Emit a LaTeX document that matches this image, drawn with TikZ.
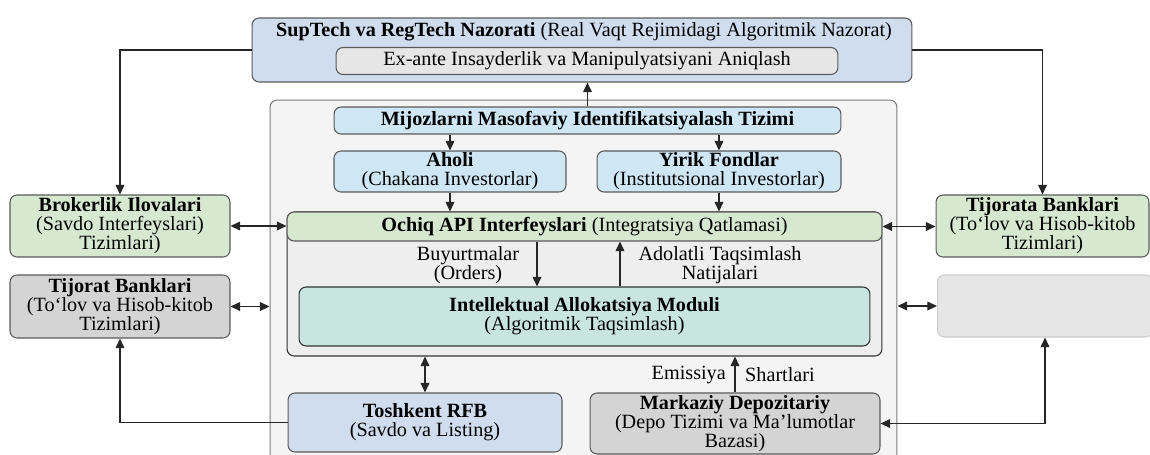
\documentclass[tikz,border=0pt]{standalone}
\usepackage{fontspec}
\setmainfont{Liberation Serif}
\usetikzlibrary{positioning,arrows.meta}
\definecolor{supblue}{HTML}{D0DDEF}
\definecolor{skyblue}{HTML}{CFE6F5}
\definecolor{apigreen}{HTML}{D6E9D0}
\definecolor{tealbox}{HTML}{C8E5E0}
\definecolor{greybox}{HTML}{D4D4D4}
\definecolor{lightgrey}{HTML}{E6E6E6}
\definecolor{panel}{HTML}{F4F4F4}
\definecolor{inner}{HTML}{EEEEEE}
\definecolor{edge}{HTML}{5A5A5A}
\begin{document}
\begin{tikzpicture}[x=0.02cm,y=-0.02cm,font=\fontsize{11.5}{10.8}\selectfont,
  box/.style={draw=edge,rounded corners=4pt,align=center,inner sep=1pt,line width=0.6pt},
  arr/.style={-{Triangle[length=5.5pt,width=5pt]},line width=0.7pt,black!85},
  both/.style={{Triangle[length=5.5pt,width=5pt]}-{Triangle[length=5.5pt,width=5pt]},line width=0.7pt,black!85}]
\useasboundingbox (0,0) rectangle (1150,454);

\node[box,fill=supblue,minimum width=13.2cm,minimum height=1.28cm] (sup) at (582,50) {};
\node (suptitle) at (584,32) {\textbf{SupTech va RegTech Nazorati} (Real Vaqt Rejimidagi Algoritmik Nazorat)};
\node[box,fill=lightgrey,minimum width=10.04cm,minimum height=0.54cm] (exante) at (587,61) {Ex-ante Insayderlik va Manipulyatsiyani Aniqlash};

\node[box,draw=edge!80,fill=panel,minimum width=12.54cm,minimum height=7.4cm] (platform) at (583.5,285) {};
\node[box,fill=skyblue,minimum width=10.14cm,minimum height=0.54cm] (mijoz) at (587.5,120.5) {\textbf{Mijozlarni Masofaviy Identifikatsiyalash Tizimi}};
\node[box,fill=skyblue,minimum width=4.64cm,minimum height=0.82cm] (aholi) at (450,171.5) {\textbf{Aholi}\\(Chakana Investorlar)};
\node[box,fill=skyblue,minimum width=4.88cm,minimum height=0.82cm] (yirik) at (719,171.5) {\textbf{Yirik Fondlar}\\(Institutsional Investorlar)};

\node[box,draw=black!80,fill=inner,minimum width=11.9cm,minimum height=2.88cm] (algo) at (584.5,284) {};
\node[box,fill=apigreen,minimum width=11.9cm,minimum height=0.58cm] (api) at (584.5,226.5) {\textbf{Ochiq API Interfeyslari} (Integratsiya Qatlamasi)};
\node[box,draw=black!80,fill=tealbox,minimum width=11.42cm,minimum height=1.18cm] (alloc) at (584.5,316.5) {\textbf{Intellektual Allokatsiya Moduli}\\(Algoritmik Taqsimlash)};
\node[align=center] (orders) at (468,265) {Buyurtmalar\\(Orders)};
\node[align=center] (results) at (720,265) {Adolatli Taqsimlash\\Natijalari};

\node[box,fill=supblue,minimum width=5.48cm,minimum height=1.18cm] (tosh) at (425,422.5) {\textbf{Toshkent RFB}\\(Savdo va Listing)};
\node[box,fill=greybox,minimum width=5.8cm,minimum height=1.22cm] (depo) at (735,423.5) {\textbf{Markaziy Depozitariy}\\(Depo Tizimi va Ma’lumotlar\\Bazasi)};
\node[anchor=east] (emis) at (732,375) {Emissiya};
\node[anchor=west] (shart) at (739,375) {Shartlari};

\node[box,fill=apigreen,minimum width=4.4cm,minimum height=1.24cm] (broker) at (120,226) {\textbf{Brokerlik Ilovalari}\\(Savdo Interfeyslari)\\Tizimlari)};
\node[box,fill=greybox,minimum width=4.4cm,minimum height=1.26cm] (tijleft) at (120,306.5) {\textbf{Tijorat Banklari}\\(To‘lov va Hisob-kitob\\Tizimlari)};
\node[box,fill=apigreen,minimum width=4.26cm,minimum height=1.24cm] (tijright) at (1042.5,226) {\textbf{Tijorata Banklari}\\(To‘lov va Hisob-kitob\\Tizimlari)};
\node[box,draw=black!20,fill=lightgrey,minimum width=4.3cm,minimum height=1.24cm] (spare) at (1045,306) {};

\draw[arr] (mijoz.north) -- (mijoz.north |- sup.south);
\draw[arr] (aholi |- mijoz.south) -- (aholi.north);
\draw[arr] (yirik |- mijoz.south) -- (yirik.north);
\draw[arr] (aholi.south) -- (aholi.south |- api.north);
\draw[arr] (yirik.south) -- (yirik.south |- api.north);
\draw[arr] ([xshift=-0.95cm]api.south) -- ([xshift=-0.95cm]api.south |- alloc.north);
\draw[arr] ([xshift=0.71cm]api.south |- alloc.north) -- ([xshift=0.71cm]api.south);
\draw[both] (tosh.north) -- (tosh.north |- algo.south);
\draw[arr] (depo.north) -- (depo.north |- algo.south);

\draw[arr] (sup.west) -| (broker.north);
\draw[arr] (sup.east) -| (tijright.north);
\draw[both] (broker.east) -- (broker.east -| api.west);
\draw[both] (api.east) -- (api.east -| tijright.west);
\draw[both] (tijleft.east) -- (tijleft.east -| platform.west);
\draw[both] (platform.east |- spare.west) -- (spare.west);
\draw[arr] (tosh.west) -| (tijleft.south);
\draw[both] (depo.east) -| (spare.south);
\end{tikzpicture}
\end{document}
